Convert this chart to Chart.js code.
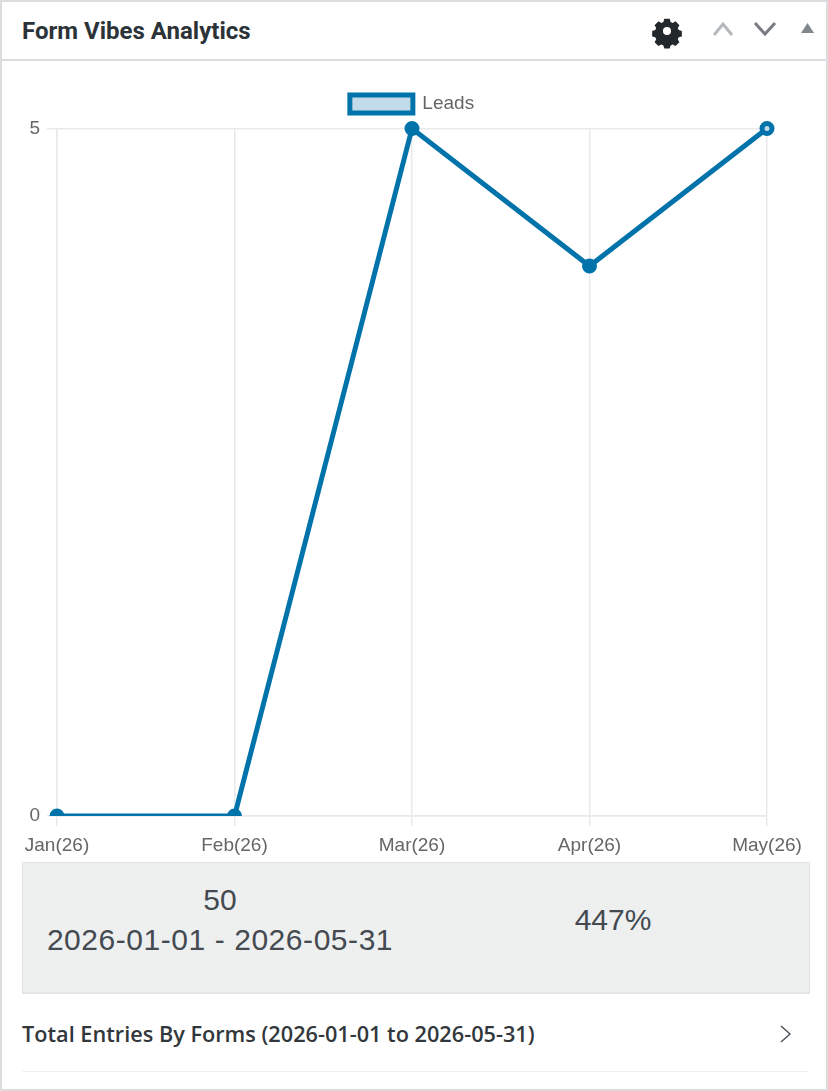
<!DOCTYPE html>
<html>
<head>
<meta charset="utf-8">
<title>Form Vibes Analytics</title>
<script src="https://cdn.jsdelivr.net/npm/chart.js@4"></script>
<style>
    html, body { margin: 0; padding: 0; background: #fff; }
    #panel { position: relative; width: 828px; height: 1091px; overflow: hidden; background: #fff; box-sizing: border-box; border: 2px solid #dcdcde; }
    #panel > * { position: absolute; }
    #title { left: 20px; top: 15px; font: 700 24px Roboto, sans-serif; color: #2c3338; white-space: nowrap; }
    #headerLine { left: 0; top: 57px; width: 824px; height: 2px; background: #dcdcde; }
    #icons { left: 638px; top: 1px; }
    #chartBox { left: -2px; top: -2px; }
    #stats { left: 20px; top: 860px; width: 788px; height: 132px; box-sizing: border-box; background: #eef0f0; border: 1px solid #e4e6e6; border-bottom-width: 2px; color: #444a50; font: 30px "Liberation Sans", sans-serif; }
    #stats span { position: absolute; white-space: nowrap; transform: translateX(-50%); }
    #subtitle { left: 20px; top: 1017px; font: 600 21.7px "Open Sans", sans-serif; color: #32373c; white-space: nowrap; }
    #arrow { left: 775px; top: 1020px; }
    #footLine { left: 20px; top: 1069px; width: 786px; height: 1px; background: #eef0f1; }
</style>
</head>
<body>
<div id="panel">
    <div id="title">Form Vibes Analytics</div>
    <div id="headerLine"></div>
    <svg id="icons" width="180" height="50" viewBox="640 5 180 50">
        <g transform="translate(667 33) scale(0.9)">
            <path fill="#23282d" fill-rule="evenodd" d="M-3-13.500h6l1 3.500 2.300 1 3.200-1.800 4.300 4.300-1.800 3.200 1 2.300 3.500 1v6l-3.500 1-1 2.300 1.800 3.200-4.300 4.300-3.200-1.800-2.300 1-1 3.500h-6l-1-3.500-2.300-1-3.200 1.800-4.300-4.300 1.800-3.200-1-2.300-3.500-1v-6l3.500-1 1-2.300-1.800-3.200 4.300-4.300 3.200 1.800 2.300-1zM0-4.500a4.500 4.500 0 1 0 0 9a4.500 4.500 0 1 0 0-9z"/>
        </g>
        <path d="M714 37l9-11 9 11" fill="none" stroke="#b4b9be" stroke-width="3"/>
        <path d="M755 25l10 11 10-11" fill="none" stroke="#787c82" stroke-width="3"/>
        <path d="M801 35l6.500-10 6.500 10z" fill="#82878c"/>
    </svg>
    <canvas id="chartBox"></canvas>
    <div id="stats">
        <span style="left:197px;top:20px">50</span>
        <span style="left:197px;top:60px;letter-spacing:0.55px">2026-01-01 - 2026-05-31</span>
        <span style="left:590px;top:40px">447%</span>
    </div>
    <div id="subtitle">Total Entries By Forms (2026-01-01 to 2026-05-31)</div>
    <svg id="arrow" width="20" height="24"><path d="M4 4l9 8-9 8" fill="none" stroke="#50575e" stroke-width="1.500"/></svg>
    <div id="footLine"></div>
</div>
<script>
    const months = ['Jan(26)', 'Feb(26)', 'Mar(26)', 'Apr(26)', 'May(26)'];
    const leads = [0, 0, 5, 4, 5];
    const yTicks = [0, 5];
    const seriesLabel = 'Leads';

    const BLUE = '#0073aa';
    const LIGHT = '#c3dae8';
    const GRID = '#e9e9e9';
    const TICK_COLOR = '#666';
    const FONT = '"Liberation Sans", sans-serif';

    const canvas = document.getElementById('chartBox');
    canvas.width = 824;
    canvas.height = 862;
    canvas.style.width = '824px';
    canvas.style.height = '862px';

    // extra gap under the legend, the labels padding alone does not give it
    const legendGap = {
        id: 'legendGap',
        beforeInit(chart) {
            const fit = chart.legend.fit;
            chart.legend.fit = function () {
                fit.call(this);
                this.height += 5;
            };
        }
    };

    new Chart(canvas.getContext('2d'), {
        type: 'line',
        plugins: [legendGap],
        data: {
            labels: months,
            datasets: [{
                label: seriesLabel,
                data: leads,
                borderColor: BLUE,
                backgroundColor: LIGHT,
                borderWidth: 5,
                fill: false,
                tension: 0,
                pointRadius: 5,
                pointBorderWidth: 5,
                pointBorderColor: BLUE,
                pointBackgroundColor: ctx => ctx.dataIndex === leads.length - 1 ? LIGHT : BLUE,
                clip: { left: false, top: false, right: false, bottom: 0 }
            }]
        },
        options: {
            responsive: false,
            animation: false,
            layout: { padding: { top: 76, right: 0, bottom: 0, left: 0 } },
            plugins: {
                tooltip: { enabled: false },
                legend: {
                    display: true,
                    position: 'top',
                    labels: {
                        boxWidth: 63,
                        boxHeight: 18,
                        padding: 18.5,
                        color: TICK_COLOR,
                        font: { family: FONT, size: 19 }
                    }
                }
            },
            scales: {
                x: {
                    offset: false,
                    afterFit: axis => { axis.height = 46; axis.paddingRight = 57; },
                    grid: { color: GRID, lineWidth: 1.5, tickLength: 10 },
                    border: { color: GRID, width: 1.5 },
                    ticks: {
                        color: TICK_COLOR,
                        padding: 8,
                        maxRotation: 0,
                        autoSkip: false,
                        font: { family: FONT, size: 19 }
                    }
                },
                y: {
                    min: yTicks[0],
                    max: yTicks[1],
                    afterFit: axis => { axis.width = 57; },
                    afterBuildTicks: axis => { axis.ticks = yTicks.map(value => ({ value })); },
                    grid: { color: GRID, lineWidth: 1.5, tickLength: 10 },
                    border: { color: GRID, width: 1.5 },
                    ticks: {
                        color: TICK_COLOR,
                        padding: 7,
                        font: { family: FONT, size: 19 }
                    }
                }
            }
        }
    });
</script>
</body>
</html>
